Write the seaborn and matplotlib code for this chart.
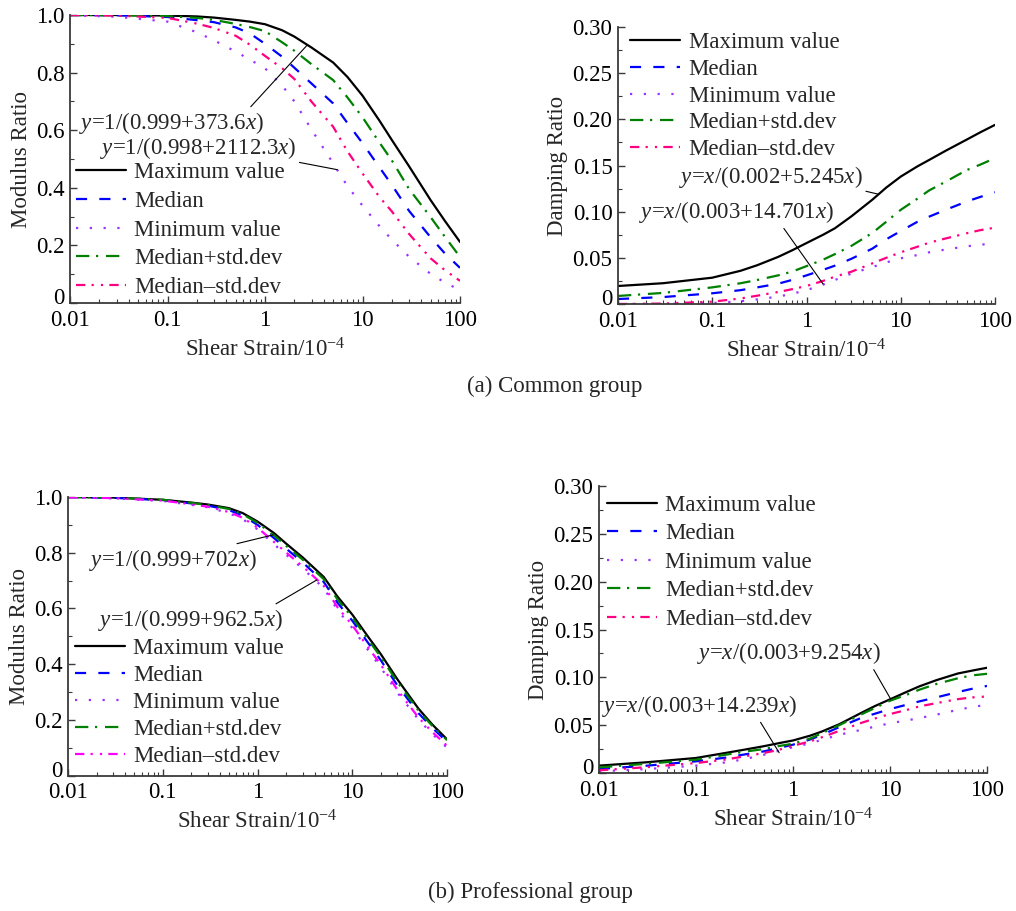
import numpy as np
import pandas as pd
import matplotlib
matplotlib.use("Agg")
import matplotlib.pyplot as plt
import seaborn as sns
from matplotlib.ticker import FixedLocator, FuncFormatter, MultipleLocator, LogLocator, NullFormatter
from matplotlib.transforms import ScaledTranslation

# ---------------- data ----------------
strain = [0.01, 0.03, 0.1, 0.2, 0.3, 0.5, 0.7, 1, 1.5, 2, 3, 5, 7, 10, 15, 20, 30, 50, 70, 100]
series_names = ["Maximum value", "Median", "Minimum value", "Median+std.dev", "Median\u2013std.dev"]

# (a) Common group - modulus ratio
a_mod_max = [1.000, 1.000, 0.998, 0.995, 0.991, 0.983, 0.977, 0.968, 0.947, 0.925, 0.887, 0.835, 0.785, 0.720, 0.632, 0.566, 0.475, 0.357, 0.285, 0.212]
a_mod_med = [1.000, 0.999, 0.993, 0.982, 0.975, 0.957, 0.936, 0.900, 0.855, 0.817, 0.762, 0.693, 0.625, 0.555, 0.470, 0.410, 0.320, 0.228, 0.172, 0.122]
a_mod_min = [0.999, 0.994, 0.977, 0.940, 0.912, 0.873, 0.845, 0.815, 0.755, 0.700, 0.602, 0.485, 0.406, 0.338, 0.266, 0.220, 0.161, 0.101, 0.071, 0.045]
a_mod_pstd = [1.000, 0.999, 0.996, 0.990, 0.983, 0.969, 0.958, 0.944, 0.905, 0.876, 0.829, 0.774, 0.714, 0.645, 0.556, 0.495, 0.396, 0.298, 0.230, 0.160]
a_mod_mstd = [1.000, 0.998, 0.990, 0.970, 0.955, 0.928, 0.897, 0.858, 0.815, 0.778, 0.699, 0.612, 0.527, 0.450, 0.367, 0.318, 0.240, 0.155, 0.114, 0.077]

# (a) Common group - damping ratio
a_dmp_max = [0.0195, 0.0225, 0.0285, 0.036, 0.042, 0.051, 0.058, 0.066, 0.075, 0.082, 0.095, 0.113, 0.126, 0.138, 0.149, 0.156, 0.166, 0.178, 0.186, 0.194]
a_dmp_med = [0.0054, 0.0075, 0.0116, 0.015, 0.018, 0.022, 0.026, 0.031, 0.037, 0.0415, 0.049, 0.060, 0.070, 0.079, 0.089, 0.0946, 0.102, 0.111, 0.116, 0.121]
a_dmp_min = [0.0, 0.0, 0.001, 0.003, 0.005, 0.008, 0.011, 0.015, 0.021, 0.026, 0.033, 0.040, 0.045, 0.0495, 0.053, 0.056, 0.059, 0.0625, 0.064, 0.0665]
a_dmp_pstd = [0.0087, 0.012, 0.018, 0.0225, 0.026, 0.031, 0.035, 0.041, 0.048, 0.054, 0.063, 0.077, 0.089, 0.102, 0.114, 0.123, 0.1325, 0.145, 0.151, 0.158]
a_dmp_mstd = [0.0, 0.0005, 0.0025, 0.006, 0.009, 0.013, 0.016, 0.0195, 0.025, 0.0296, 0.035, 0.044, 0.050, 0.056, 0.062, 0.0664, 0.071, 0.0766, 0.080, 0.0827]

# (b) Professional group - modulus ratio
b_mod_max = [1.000, 0.998, 0.990, 0.980, 0.973, 0.960, 0.942, 0.912, 0.870, 0.833, 0.783, 0.713, 0.642, 0.578, 0.494, 0.436, 0.345, 0.240, 0.183, 0.130]
b_mod_med = [1.000, 0.997, 0.989, 0.977, 0.969, 0.953, 0.933, 0.900, 0.852, 0.815, 0.765, 0.695, 0.620, 0.556, 0.472, 0.414, 0.323, 0.224, 0.171, 0.121]
b_mod_min = [0.999, 0.995, 0.986, 0.972, 0.963, 0.942, 0.920, 0.884, 0.830, 0.793, 0.743, 0.673, 0.594, 0.530, 0.446, 0.388, 0.297, 0.201, 0.149, 0.100]
b_mod_pstd = [1.000, 0.998, 0.990, 0.979, 0.971, 0.957, 0.938, 0.907, 0.862, 0.825, 0.775, 0.705, 0.632, 0.568, 0.484, 0.426, 0.335, 0.233, 0.178, 0.127]
b_mod_mstd = [0.999, 0.996, 0.987, 0.974, 0.965, 0.946, 0.925, 0.890, 0.838, 0.801, 0.751, 0.681, 0.604, 0.540, 0.456, 0.398, 0.307, 0.208, 0.156, 0.107]

# (b) Professional group - damping ratio
b_dmp_max = [0.0077, 0.0111, 0.0157, 0.0209, 0.024, 0.028, 0.031, 0.034, 0.039, 0.0435, 0.051, 0.0626, 0.070, 0.077, 0.085, 0.0905, 0.097, 0.104, 0.107, 0.110]
b_dmp_med = [0.0042, 0.0075, 0.0122, 0.016, 0.019, 0.0226, 0.026, 0.0296, 0.035, 0.040, 0.048, 0.0574, 0.062, 0.0668, 0.0715, 0.0748, 0.079, 0.0846, 0.088, 0.091]
b_dmp_min = [0.0017, 0.004, 0.0077, 0.011, 0.014, 0.019, 0.023, 0.027, 0.031, 0.0348, 0.040, 0.045, 0.0485, 0.052, 0.055, 0.0574, 0.061, 0.066, 0.069, 0.0713]
b_dmp_pstd = [0.0059, 0.0095, 0.0139, 0.019, 0.022, 0.025, 0.028, 0.0306, 0.036, 0.0418, 0.050, 0.061, 0.068, 0.0755, 0.082, 0.087, 0.093, 0.099, 0.102, 0.1037]
b_dmp_mstd = [0.0028, 0.006, 0.0104, 0.014, 0.017, 0.0209, 0.024, 0.0285, 0.033, 0.0375, 0.044, 0.0522, 0.057, 0.0616, 0.066, 0.0696, 0.073, 0.0772, 0.079, 0.080]

x_tick_values = [0.01, 0.1, 1, 10, 100]
x_tick_labels = ["0.01", "0.1", "1", "10", "100"]
mod_ticks = [0, 0.2, 0.4, 0.6, 0.8, 1.0]
mod_tick_labels = ["0", "0.2", "0.4", "0.6", "0.8", "1.0"]
dmp_ticks = [0, 0.05, 0.10, 0.15, 0.20, 0.25, 0.30]
dmp_tick_labels = ["0", "0.05", "0.10", "0.15", "0.20", "0.25", "0.30"]

# ---------------- style ----------------
sns.set_style("ticks")
FONT = "Liberation Serif"
plt.rcParams["font.family"] = [FONT, "DejaVu Serif"]
plt.rcParams["mathtext.fontset"] = "custom"
plt.rcParams["mathtext.rm"] = FONT
plt.rcParams["mathtext.it"] = FONT + ":italic"
plt.rcParams["mathtext.bf"] = FONT + ":bold"
FS = 16.5
plt.rcParams["font.size"] = FS

dashes = {
    series_names[0]: "",
    series_names[1]: (5, 5.5),
    series_names[2]: (1, 5.2),
    series_names[3]: (6, 3, 1, 3.5),
    series_names[4]: (4.2, 2.8, 1, 3.2, 1, 2.8),
}
pal_pink = {series_names[0]: "#000000", series_names[1]: "#0000FF", series_names[2]: "#9933FF",
            series_names[3]: "#008000", series_names[4]: "#FF0080"}
pal_mag = dict(pal_pink)
pal_mag[series_names[4]] = "#FF00FF"

fig = plt.figure(figsize=(10.16, 9.11), dpi=100)

W, H = 1016.0, 911.0
def rect(l, t, r, b):
    return [l / W, 1 - b / H, (r - l) / W, (b - t) / H]

ax_al = fig.add_axes(rect(70, 15, 460, 303))
ax_ar = fig.add_axes(rect(618, 27, 995, 304))
ax_bl = fig.add_axes(rect(68, 497, 447, 775.5))
ax_br = fig.add_axes(rect(599, 486, 987, 773))


def long_df(curves):
    rows = []
    for name, vals in zip(series_names, curves):
        for s, v in zip(strain, vals):
            rows.append((s, v, name))
    return pd.DataFrame(rows, columns=["strain", "value", "series"])


def draw(ax, curves, palette, kind, legend_anchor, labelspacing):
    df = long_df(curves)
    sns.lineplot(data=df, x="strain", y="value", hue="series", style="series",
                 hue_order=series_names, style_order=series_names,
                 palette=palette, dashes=dashes, linewidth=1.6,
                 estimator=None, sort=True, legend=False, ax=ax)
    ax.set_xscale("log")
    ax.set_xlim(0.01, 100)
    ax.xaxis.set_major_locator(FixedLocator(x_tick_values))
    ax.xaxis.set_major_formatter(FuncFormatter(
        lambda v, p: x_tick_labels[x_tick_values.index(v)] if v in x_tick_values else ""))
    ax.xaxis.set_minor_locator(LogLocator(base=10, subs=np.arange(2, 10), numticks=20))
    ax.xaxis.set_minor_formatter(NullFormatter())
    if kind == "mod":
        ax.set_ylim(0, 1.0)
        ax.yaxis.set_major_locator(FixedLocator(mod_ticks))
        ax.yaxis.set_major_formatter(FuncFormatter(lambda v, p: mod_tick_labels[p] if p is not None and p < len(mod_tick_labels) else ""))
        ax.yaxis.set_minor_locator(MultipleLocator(0.1))
        ax.set_ylabel("Modulus Ratio", fontsize=FS, labelpad=3)
    else:
        ax.set_ylim(0, 0.30)
        ax.yaxis.set_major_locator(FixedLocator(dmp_ticks))
        ax.yaxis.set_major_formatter(FuncFormatter(lambda v, p: dmp_tick_labels[p] if p is not None and p < len(dmp_tick_labels) else ""))
        ax.yaxis.set_minor_locator(MultipleLocator(0.025))
        ax.set_ylabel("Damping Ratio", fontsize=FS, labelpad=3)
    ax.set_xlabel(r"Shear Strain/10$^{\mathregular{-4}}$", fontsize=FS, labelpad=5)
    for side in ["top", "right"]:
        ax.spines[side].set_visible(False)
    for side in ["left", "bottom"]:
        ax.spines[side].set_linewidth(1.3)
        ax.spines[side].set_color("#3a3a3a")
    ax.tick_params(which="major", direction="in", length=5, width=1.0, labelsize=FS,
                   colors="#3a3a3a", labelcolor="black")
    ax.tick_params(axis="x", which="major", pad=5)
    ax.tick_params(axis="y", which="major", pad=4)
    ax.tick_params(which="minor", direction="in", length=3, width=0.8, colors="#3a3a3a")
    # lift the "0" label a little, as in the reference
    t0 = ax.yaxis.get_major_ticks()[0]
    t0.label1.set_transform(t0.label1.get_transform() + ScaledTranslation(0, 5 / 72, fig.dpi_scale_trans))
    handles = ax.get_lines()[:5]
    ax.legend(handles, series_names, loc="upper left", bbox_to_anchor=legend_anchor,
              frameon=False, fontsize=FS, handlelength=2.2, handletextpad=0.35,
              labelspacing=labelspacing, borderpad=0, borderaxespad=0)


draw(ax_al, [a_mod_max, a_mod_med, a_mod_min, a_mod_pstd, a_mod_mstd], pal_pink, "mod", (0.015, 0.488), 0.33)
draw(ax_ar, [a_dmp_max, a_dmp_med, a_dmp_min, a_dmp_pstd, a_dmp_mstd], pal_pink, "dmp", (0.032, 0.982), 0.25)
draw(ax_bl, [b_mod_max, b_mod_med, b_mod_min, b_mod_pstd, b_mod_mstd], pal_mag, "mod", (0.018, 0.493), 0.26)
draw(ax_br, [b_dmp_max, b_dmp_med, b_dmp_min, b_dmp_pstd, b_dmp_mstd], pal_pink, "dmp", (0.02, 0.970), 0.33)


def note(ax, text, xytext, xy, relpos):
    ax.annotate(text, xy=xy, xytext=xytext, textcoords="data", xycoords="data",
                ha="center", va="center", fontsize=FS,
                arrowprops=dict(arrowstyle="-", color="black", lw=0.8, relpos=relpos,
                                shrinkA=0, shrinkB=0))


note(ax_al, r"$y$=1/(0.999+373.6$x$)", (0.111, 0.625), (2.7, 0.895), (0.91, 1.0))
note(ax_al, r"$y$=1/(0.998+2112.3$x$)", (0.205, 0.538), (5.5, 0.463), (0.98, 0.0))
note(ax_ar, r"$y$=$x$/(0.002+5.245$x$)", (0.418, 0.1375), (5.74, 0.119), (0.99, 0.0))
note(ax_ar, r"$y$=$x$/(0.003+14.701$x$)", (0.1815, 0.0995), (1.50, 0.0217), (0.73, 0.0))
note(ax_bl, r"$y$=1/(0.999+702$x$)", (0.129, 0.774), (1.46, 0.864), (0.80, 1.0))
note(ax_bl, r"$y$=1/(0.999+962.5$x$)", (0.198, 0.558), (4.22, 0.702), (0.93, 1.0))
note(ax_br, r"$y$=$x$/(0.003+9.254$x$)", (0.914, 0.125), (10.2, 0.077), (0.95, 0.0))
note(ax_br, r"$y$=$x$/(0.003+14.239$x$)", (0.11, 0.070), (0.72, 0.0212), (0.80, 0.0))

fig.text(555 / W, 1 - 386 / H, "(a) Common group", ha="center", va="center", fontsize=FS)
fig.text(530 / W, 1 - 892 / H, "(b) Professional group", ha="center", va="center", fontsize=FS)

fig.savefig("out.png", dpi=100, facecolor="white")
